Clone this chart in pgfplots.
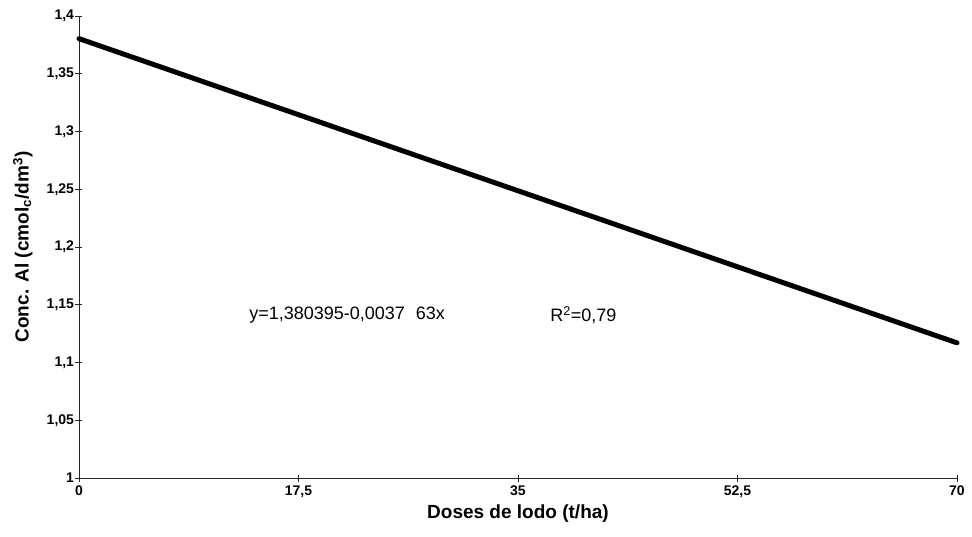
\documentclass[border=0pt]{standalone}
\usepackage{fontspec}
\setmainfont{Liberation Sans}
\usepackage{pgfplots}
\pgfplotsset{compat=1.18}
\begin{document}
\begin{tikzpicture}
\useasboundingbox (-79pt,-58pt) rectangle (893pt,478pt);
\begin{axis}[
  at={(0,0)}, anchor=south west,
  scale only axis, width=878pt, height=462pt,
  xmin=0, xmax=70, ymin=1, ymax=1.4,
  axis lines=left,
  axis line style={-, line width=0.9pt, black!85},
  tick style={line width=0.9pt, black!85},
  tick align=center, major tick length=7pt,
  /pgf/number format/assume math mode=true,
  xtick={0,17.5,35,52.5,70},
  xticklabels={0,{17,5},35,{52,5},70},
  ytick={1,1.05,1.1,1.15,1.2,1.25,1.3,1.35,1.4},
  yticklabels={1,{1,05},{1,1},{1,15},{1,2},{1,25},{1,3},{1,35},{1,4}},
  ticklabel style={font=\fontsize{14}{16}\selectfont\bfseries},
  x tick label style={yshift=-1pt},
  y tick label style={xshift=2pt},
  xlabel={Doses de lodo (t/ha)},
  ylabel={Conc. Al (cmol\textsubscript{c}/dm\textsuperscript{3})},
  label style={font=\fontsize{19}{21}\selectfont\bfseries},
  xlabel style={at={(axis description cs:0.5,-0.077)}, anchor=center},
  ylabel style={at={(axis description cs:-0.064,0.5)}, anchor=center},
  clip=false,
]
\addplot[black, line width=5pt, line cap=round] coordinates {(0,1.380395) (70,1.117)};
\node[anchor=west, font=\fontsize{18}{20}\selectfont] at (axis cs:13.3,1.141) {y=1,380395-0,0037\hspace{0.6em}63x};
\node[anchor=west, font=\fontsize{18}{20}\selectfont] at (axis cs:37.3,1.141) {R\textsuperscript{2}=0,79};
\end{axis}
\end{tikzpicture}
\end{document}
